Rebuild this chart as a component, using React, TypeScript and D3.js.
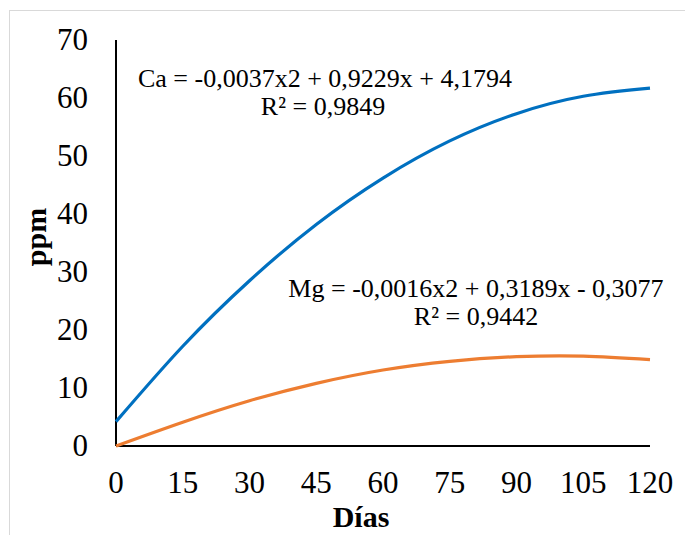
import React from "react";
import * as d3 from "d3";

const days = [0, 15, 30, 45, 60, 75, 90, 105, 120];
const caValues = [4.2, 17.2, 28.5, 38.2, 46.2, 52.6, 57.3, 60.3, 61.7];
const mgValues = [0, 4.1, 7.8, 10.8, 13.1, 14.6, 15.4, 15.5, 14.9];
const xTicks = [0, 15, 30, 45, 60, 75, 90, 105, 120];
const yTicks = [0, 10, 20, 30, 40, 50, 60, 70];
const caLabel = ["Ca = -0,0037x2 + 0,9229x + 4,1794", "R² = 0,9849"];
const mgLabel = ["Mg = -0,0016x2 + 0,3189x - 0,3077", "R² = 0,9442"];

const W = 685;
const H = 535;
const font = "'Liberation Serif', 'Times New Roman', serif";

export default function App() {
  const x = d3.scaleLinear().domain([0, 120]).range([116, 650]);
  const y = d3.scaleLinear().domain([0, 70]).range([446, 40]);
  const line = d3
    .line<number>()
    .x((_, i) => x(days[i]))
    .y((d) => y(d))
    .curve(d3.curveNatural);

  return (
    <svg
      width={W}
      height={H}
      style={{ position: "absolute", left: 0, top: 0 }}
      fontFamily={font}
    >
      <rect x={0} y={0} width={W} height={H} fill="#fff" />
      <rect x={9.5} y={10.5} width={W} height={H} fill="none" stroke="#d9d9d9" strokeWidth={1} />
      <line x1={x(0)} x2={x(0)} y1={y(70)} y2={y(0)} stroke="#000" strokeWidth={2} />
      <line x1={x(0)} x2={x(120)} y1={y(0)} y2={y(0)} stroke="#000" strokeWidth={2} />
      {yTicks.map((t) => (
        <text key={t} x={88} y={y(t) + 10} textAnchor="end" fontSize={31} fill="#000">
          {t}
        </text>
      ))}
      {xTicks.map((t) => (
        <text key={t} x={x(t)} y={493} textAnchor="middle" fontSize={31} fill="#000">
          {t}
        </text>
      ))}
      <path d={line(caValues) || ""} fill="none" stroke="#0070C0" strokeWidth={3.2} />
      <path d={line(mgValues) || ""} fill="none" stroke="#ED7D31" strokeWidth={3.2} />
      <text x={325} y={87} textAnchor="middle" fontSize={26} fill="#000">{caLabel[0]}</text>
      <text x={323} y={115} textAnchor="middle" fontSize={26} fill="#000">{caLabel[1]}</text>
      <text x={476} y={297} textAnchor="middle" fontSize={26} fill="#000">{mgLabel[0]}</text>
      <text x={476} y={325} textAnchor="middle" fontSize={26} fill="#000">{mgLabel[1]}</text>
      <text
        transform={`translate(46,237) rotate(-90)`}
        textAnchor="middle"
        fontSize={30}
        fontWeight="bold"
        fill="#000"
      >
        ppm
      </text>
      <text x={361} y={527} textAnchor="middle" fontSize={30} fontWeight="bold" fill="#000">
        Días
      </text>
    </svg>
  );
}
